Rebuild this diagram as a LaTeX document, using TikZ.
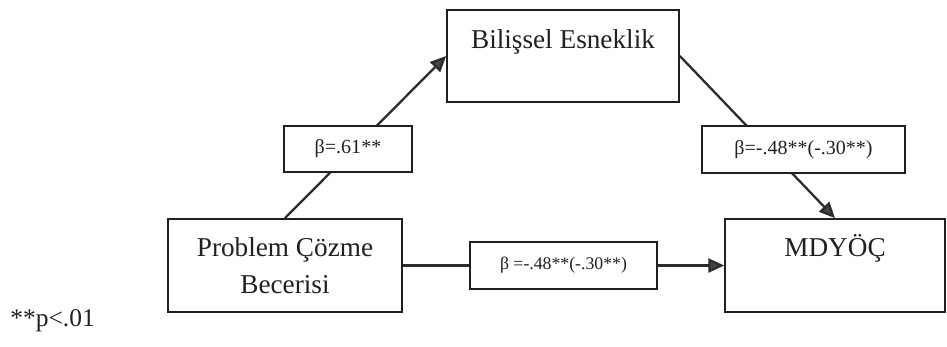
\documentclass[tikz,border=0pt]{standalone}
\usepackage{fontspec}
\setmainfont{Liberation Serif}
\usepackage{tikz}
\usetikzlibrary{arrows.meta}
\usetikzlibrary{positioning}
\definecolor{ink}{HTML}{231F20}
\definecolor{wire}{HTML}{2B2B2B}
\definecolor{tip}{HTML}{444444}
\tikzset{>={Triangle[length = 9pt, width = 8pt, fill = tip]}}
\tikzstyle{var} = [draw = ink, line width = 1pt, text = ink, inner sep = 0, align = center, font = \fontsize{15.5}{21}\selectfont]
\tikzstyle{coef} = [draw = ink, line width = 0.9pt, fill = white, text = ink, inner sep = 0, font = \fontsize{11.4}{13}\selectfont]
\tikzstyle{path} = [-, draw = wire, line width = 1.3pt]

\begin{document}
\begin{tikzpicture}[x = 0.02cm, y = -0.02cm]
\useasboundingbox (0, 0) rectangle (947, 347);
\node [var, minimum width = 232*0.02cm, minimum height = 92*0.02cm, text height = 11pt, text depth = 19pt] (be) at (563, 56) {Bilişsel Esneklik};
\node [var, minimum width = 234*0.02cm, minimum height = 93*0.02cm] (pce) at (285, 265.5) {Problem Çözme\\Becerisi};
\node [var, minimum width = 220*0.02cm, minimum height = 93*0.02cm, text height = 11pt, text depth = 21pt] (md) at (835, 265.5) {MDYÖÇ};
\draw [path, ->] (pce.north) to (be.west);
\draw [path, ->] (be.east) to (md.north);
\draw [path, ->] (pce.east) to (md.west);
\node [coef, minimum width = 128*0.02cm, minimum height = 46*0.02cm] (b1) at (348, 149) {β=.61**};
\node [coef, minimum width = 203*0.02cm, minimum height = 47*0.02cm] (b2) at (803.5, 149.5) {β=-.48**(-.30**)};
\node [coef, minimum width = 187*0.02cm, minimum height = 47*0.02cm, font = \fontsize{10.1}{12}\selectfont] (b3) at (563.5, 265.5) {β =-.48**(-.30**)};
\node [draw = none, text = ink, inner sep = 0, anchor = base west, font = \fontsize{14.5}{17}\selectfont] (note) at (10, 327) {**p<.01};
\end{tikzpicture}
\end{document}
